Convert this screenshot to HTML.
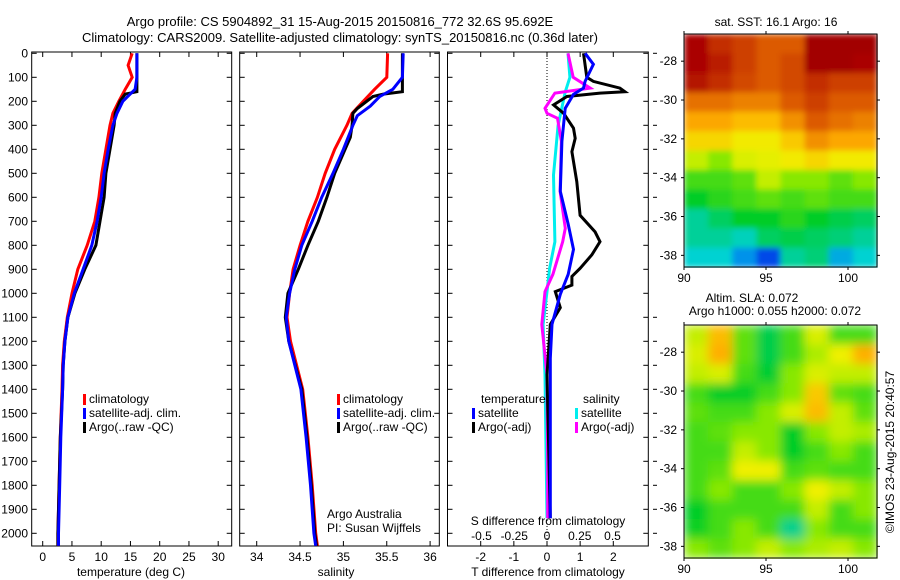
<!DOCTYPE html>
<html><head><meta charset="utf-8">
<style>
body{margin:0;background:#fff;}
svg{display:block;font-family:"Liberation Sans",sans-serif;font-size:12px;}
</style></head>
<body>
<svg id="fig" width="900" height="580" viewBox="0 0 900 580" xmlns="http://www.w3.org/2000/svg">
<text x="340" y="26" text-anchor="middle" font-size="13">Argo profile: CS 5904892_31 15-Aug-2015 20150816_772 32.6S 95.692E</text>
<text x="340" y="42" text-anchor="middle" font-size="13">Climatology: CARS2009. Satellite-adjusted climatology: synTS_20150816.nc (0.36d later)</text>
<g id="g"></g>
</svg>
<script>
// ---- data ----
const tClimD=[0,50,100,150,200,250,300,400,500,600,700,800,900,1000,1100,1200,1300,1400,1600,1800,2000,2052];
const tClim=[15.3,14.6,15.3,14.1,13.0,12.0,11.5,10.8,10.1,9.6,8.9,7.6,6.0,5.0,4.2,3.7,3.4,3.3,3.0,2.8,2.6,2.6];
const tSatD=[0,100,150,200,250,300,400,500,600,700,800,900,1000,1100,1200,1300,1400,1600,1800,2000,2052];
const tSat=[16.1,16.1,15.8,13.7,12.7,12.0,11.2,10.5,10.0,9.3,8.4,6.9,5.4,4.3,3.8,3.5,3.4,3.1,2.9,2.7,2.7];
const tArgoD=[0,160,170,200,250,300,400,500,600,700,800,900,1000,1100,1200,1300,1400,1600,1800,2000,2052];
const tArgo=[16.1,16.1,14.1,13.2,12.4,12.2,11.5,10.8,10.5,9.8,9.1,7.2,5.5,4.3,3.8,3.5,3.4,3.0,2.8,2.6,2.6];
const sClimD=[0,100,150,200,250,300,400,500,600,700,800,900,1000,1100,1200,1400,1600,1800,2000,2052];
const sClim=[35.51,35.50,35.36,35.23,35.10,35.04,34.90,34.79,34.70,34.59,34.50,34.42,34.38,34.35,34.39,34.53,34.59,34.64,34.68,34.70];
const sSatD=[0,100,150,180,220,260,300,400,500,600,700,800,900,1000,1100,1200,1400,1600,1800,2000,2052];
const sSat=[35.69,35.68,35.57,35.42,35.31,35.16,35.11,35.00,34.88,34.75,34.64,34.52,34.44,34.38,34.34,34.37,34.51,34.57,34.62,34.66,34.68];
const sArgoD=[0,160,170,180,230,250,300,350,400,500,600,700,800,900,1000,1100,1200,1400,1600,1800,2000,2052];
const sArgo=[35.68,35.68,35.46,35.34,35.16,35.11,35.10,35.08,35.02,34.90,34.81,34.71,34.59,34.48,34.36,34.33,34.37,34.52,34.58,34.63,34.67,34.69];
const dTsatD=[0,46,117,145,171,229,367,575,712,817,921,1004,1129,1271,1937];
const dTsat=[1.15,1.4,1.15,1.1,0.8,0.55,0.45,0.4,0.64,0.8,0.64,0.4,0.15,0.1,0.1];
const dTargoD=[0,100,117,145,160,166,180,215,250,312,354,410,535,675,744,785,840,896,930,966,993,1060,1130,1340,1937];
const dTargo=[1.1,1.2,1.4,2.2,2.35,1.6,0.6,0.2,0.5,0.8,0.85,0.75,0.9,1.0,1.45,1.6,1.35,1.0,0.75,0.75,0.25,0.4,0.1,0.0,0.1];
const dSsatD=[0,100,160,300,507,785,896,993,1130,1340,1937];
const dSsat=[0.16,0.175,0.14,0.085,0.05,0.06,0.02,0.0,-0.03,-0.015,0.0];
const dSargoD=[0,100,145,166,229,250,271,367,575,729,785,921,993,1130,1340,1700,1937];
const dSargo=[0.16,0.2,0.33,0.06,-0.015,0.0,0.08,0.11,0.1,0.14,0.12,0.045,-0.015,-0.04,0.0,0.005,0.005];
const depthTicks=[0,100,200,300,400,500,600,700,800,900,1000,1100,1200,1300,1400,1500,1600,1700,1800,1900,2000];
const tTicks=[0,5,10,15,20,25,30];
const sTicks=[34,34.5,35,35.5,36];
const sTickLabels=["34","34.5","35","35.5","36"];
const dTTicks=[-2,-1,0,1,2];
const dSTicks=[-0.5,-0.25,0,0.25,0.5];
const dSTickLabels=["-0.5","-0.25","0","0.25","0.5"];
const sstLatTicks=[-28,-30,-32,-34,-36,-38];
const lonTicks=[90,95,100];
const sstGrid=[
[0.95,0.9,0.88,0.85,0.85,0.97,0.97,0.97],
[0.95,0.92,0.88,0.85,0.87,0.97,0.97,0.95],
[0.93,0.9,0.87,0.85,0.87,0.9,0.88,0.88],
[0.82,0.82,0.8,0.8,0.85,0.88,0.85,0.85],
[0.75,0.75,0.72,0.72,0.78,0.85,0.82,0.8],
[0.68,0.68,0.65,0.65,0.7,0.78,0.75,0.75],
[0.6,0.55,0.62,0.63,0.65,0.68,0.65,0.65],
[0.5,0.5,0.52,0.6,0.55,0.55,0.52,0.55],
[0.45,0.48,0.5,0.52,0.5,0.52,0.5,0.5],
[0.35,0.4,0.45,0.45,0.48,0.45,0.42,0.4],
[0.35,0.35,0.32,0.4,0.42,0.4,0.38,0.35],
[0.3,0.3,0.22,0.12,0.35,0.38,0.25,0.3]];
const slaGrid=[
[0.6,0.72,0.52,0.42,0.5,0.62,0.5,0.5],
[0.62,0.74,0.52,0.42,0.5,0.58,0.64,0.74],
[0.6,0.62,0.5,0.44,0.55,0.62,0.6,0.6],
[0.5,0.45,0.45,0.5,0.55,0.7,0.52,0.5],
[0.52,0.5,0.5,0.55,0.62,0.72,0.6,0.52],
[0.5,0.52,0.55,0.55,0.45,0.55,0.6,0.58],
[0.5,0.5,0.6,0.55,0.45,0.5,0.55,0.5],
[0.5,0.52,0.64,0.64,0.5,0.52,0.5,0.5],
[0.5,0.55,0.5,0.5,0.55,0.64,0.6,0.55],
[0.45,0.5,0.5,0.5,0.5,0.6,0.5,0.55],
[0.46,0.5,0.55,0.5,0.36,0.55,0.5,0.5],
[0.55,0.52,0.55,0.6,0.55,0.58,0.6,0.55]];

// ---- helpers ----
const NS="http://www.w3.org/2000/svg";
const G=document.getElementById('g');
function mk(tag,at,parent){const e=document.createElementNS(NS,tag);for(const k in at)e.setAttribute(k,at[k]);(parent||G).appendChild(e);return e;}
const TOP=52,BOT=546;
const yD=d=>53.3+0.24*d;
const xT=t=>42.7+5.85*t;
const xS=s=>256.7+86.7*(s-34);
const xDT=t=>547+33.15*t;
const xDS=s=>547+131*s;
function panel(x0,x1,name){
  const r=mk('rect',{x:x0,y:TOP,width:x1-x0,height:BOT-TOP,fill:'none',stroke:'#000','stroke-width':1});
  
  
  depthTicks.forEach(d=>{
    const l=mk('line',{x1:x0,x2:x0+5,y1:yD(d),y2:yD(d),stroke:'#000'});
    
    
    mk('line',{x1:x1,x2:x1-5,y1:yD(d),y2:yD(d),stroke:'#000'});
  });
}
function xticks(vals,labels,fx,y,name){
  vals.forEach((v,i)=>{
    mk('line',{x1:fx(v),x2:fx(v),y1:BOT,y2:BOT-5,stroke:'#000'});
    mk('line',{x1:fx(v),x2:fx(v),y1:TOP,y2:TOP+5,stroke:'#000'});
    const t=mk('text',{x:fx(v),y:y,'text-anchor':'middle'});
    t.textContent=labels[i];
    
    
  });
}
function line(vals,depths,fx,color,name){
  const pts=vals.map((v,i)=>fx(v).toFixed(1)+','+yD(depths[i]).toFixed(1)).join(' ');
  const p=mk('polyline',{points:pts,fill:'none',stroke:color,'stroke-width':3,'stroke-linejoin':'miter'});
  
  
}
function txt(s,x,y,name,extra){
  const t=mk('text',Object.assign({x:x,y:y},extra||{}));
  t.textContent=s;
  
  
  return t;
}
function legend(x,y,color,label,name){
  const r=mk('rect',{x:x,y:y-9,width:3,height:11,fill:color});
  
  
  txt(label,x+6,y,name);
}

// ---- panel 1 temperature ----
panel(31.7,231.7,'temperature-panel');
depthTicks.forEach(d=>{txt(String(d),28,yD(d)+4,'depth-tick-label',{'text-anchor':'end'});});
xticks(tTicks,tTicks.map(String),xT,561,'temperature-tick-label');
txt('temperature (deg C)',131,576,'temperature-axis-title',{'text-anchor':'middle'});
line(tClim,tClimD,xT,'#f00','temperature-climatology-line');
line(tArgo,tArgoD,xT,'#000','temperature-argo-line');
line(tSat,tSatD,xT,'#00f','temperature-satellite-line');
legend(83,403,'#f00','climatology','legend-climatology');
legend(83,417,'#00f','satellite-adj. clim.','legend-satellite-adj');
legend(83,431,'#000','Argo(..raw -QC)','legend-argo');

// ---- panel 2 salinity ----
panel(239.7,439.3,'salinity-panel');
xticks(sTicks,sTickLabels,xS,561,'salinity-tick-label');
txt('salinity',336,576,'salinity-axis-title',{'text-anchor':'middle'});
line(sClim,sClimD,xS,'#f00','salinity-climatology-line');
line(sArgo,sArgoD,xS,'#000','salinity-argo-line');
line(sSat,sSatD,xS,'#00f','salinity-satellite-line');
legend(337,403,'#f00','climatology','legend-climatology-2');
legend(337,417,'#00f','satellite-adj. clim.','legend-satellite-adj-2');
legend(337,431,'#000','Argo(..raw -QC)','legend-argo-2');
txt('Argo Australia',327,518,'credit-argo-australia');
txt('PI: Susan Wijffels',327,532,'credit-pi');

// ---- panel 3 differences ----
panel(447.5,648.3,'difference-panel');
mk('line',{x1:547,x2:547,y1:TOP,y2:BOT,stroke:'#000','stroke-dasharray':'1,2'});
xticks(dTTicks,dTTicks.map(String),xDT,561,'t-diff-tick-label');
dSTicks.forEach((v,i)=>{txt(dSTickLabels[i],xDS(v),540,'s-diff-tick-label',{'text-anchor':'middle'});});
txt('S difference from climatology',548,525,'s-diff-axis-title',{'text-anchor':'middle'});
txt('T difference from climatology',548,576,'t-diff-axis-title',{'text-anchor':'middle'});
line(dSsat,dSsatD,xDS,'#0ee','s-diff-satellite-line');
line(dSargo,dSargoD,xDS,'#f0f','s-diff-argo-line');
line(dTargo,dTargoD,xDT,'#000','t-diff-argo-line');
line(dTsat,dTsatD,xDT,'#00f','t-diff-satellite-line');
txt('temperature',481,403,'legend-temperature-header');
legend(472,417,'#00f','satellite','legend-t-satellite');
legend(472,431,'#000','Argo(-adj)','legend-t-argo');
txt('salinity',583,403,'legend-salinity-header');
legend(575,417,'#0ee','satellite','legend-s-satellite');
legend(575,431,'#f0f','Argo(-adj)','legend-s-argo');
depthTicks.forEach(d=>{if(d<=700||d>=1100)mk('line',{x1:653,x2:657,y1:yD(d),y2:yD(d),stroke:'#000'});});

// ---- maps ----
const cmapPos=[0,0.15,0.3,0.45,0.56,0.64,0.74,0.85,0.95,1];
const cmapCol=[[0,0,140],[0,90,255],[0,210,210],[0,205,40],[150,235,0],[240,240,0],[255,175,0],[220,90,0],[170,0,0],[150,0,0]];
function cmap(v){
  v=Math.max(0,Math.min(1,v));
  let i=0;while(i<cmapPos.length-2&&v>cmapPos[i+1])i++;
  const f=(v-cmapPos[i])/(cmapPos[i+1]-cmapPos[i]);
  const a=cmapCol[i],b=cmapCol[i+1];
  return 'rgb('+a.map((c,k)=>Math.round(c+(b[k]-c)*f)).join(',')+')';
}
const MX0=684,MX1=877;
const xLon=l=>684+16.4*(l-90);
const defs=mk('defs',{});
const f=mk('filter',{id:'bl',x:'0',y:'0',width:'1',height:'1'},defs);
mk('feGaussianBlur',{stdDeviation:'5'},f);
const f2=mk('filter',{id:'bl2',x:'0',y:'0',width:'1',height:'1'},defs);
mk('feGaussianBlur',{stdDeviation:'3'},f2);
function map(grid,y0,y1,name,latTop,latBot,filt){
  const gr=mk('g',{filter:'url(#'+filt+')'});
  
  
  const rows=grid.length,cols=grid[0].length;
  const cw=(MX1-MX0)/cols,ch=(y1-y0)/rows;
  grid.forEach((row,i)=>row.forEach((v,j)=>{
    const c=mk('rect',{x:MX0+j*cw,y:y0+i*ch,width:cw+0.6,height:ch+0.6,fill:cmap(v)},gr);
    
    
  }));
  mk('rect',{x:MX0,y:y0,width:MX1-MX0,height:y1-y0,fill:'none',stroke:'#000'});
  const yLat=la=>y0+(y1-y0)*(latTop-la)/(latTop-latBot);
  sstLatTicks.forEach(la=>{
    mk('line',{x1:MX0-3,x2:MX0,y1:yLat(la),y2:yLat(la),stroke:'#000'});
    mk('line',{x1:MX1,x2:MX1+3,y1:yLat(la),y2:yLat(la),stroke:'#000'});
    txt(String(la),677,yLat(la)+4,name+'-lat-label',{'text-anchor':'end'});
  });
  lonTicks.forEach(lo=>{
    mk('line',{x1:xLon(lo),x2:xLon(lo),y1:y1,y2:y1+3,stroke:'#000'});
    mk('line',{x1:xLon(lo),x2:xLon(lo),y1:y0,y2:y0-3,stroke:'#000'});
    txt(String(lo),xLon(lo),y1+15,name+'-lon-label',{'text-anchor':'middle'});
  });
}
txt('sat. SST: 16.1  Argo: 16',776,26,'sst-map-title',{'text-anchor':'middle'});
map(sstGrid,34,267,'sst-map',-26.6,-38.6,'bl2');
txt('Altim. SLA: 0.072',752,302,'sla-map-title-1',{'text-anchor':'middle'});
txt('Argo h1000: 0.055 h2000: 0.072',775,315,'sla-map-title-2',{'text-anchor':'middle'});
map(slaGrid,325,558,'sla-map',-26.6,-38.6,'bl');
txt('©IMOS 23-Aug-2015 20:40:57',0,0,'timestamp-label',{'text-anchor':'middle',transform:'translate(894,452) rotate(-90)'});
</script>
</body></html>
